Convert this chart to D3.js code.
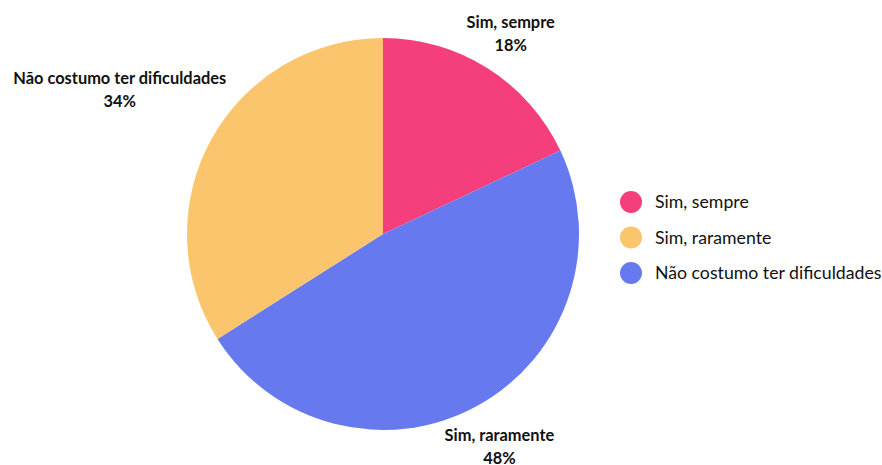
<!DOCTYPE html>
<html lang="pt">
<head>
    <meta charset="utf-8">
    <title>Pie chart</title>
    <script src="https://cdn.jsdelivr.net/npm/d3@7"></script>
    <style>
        body { margin: 0; background: #fff; }
        svg text { font-family: Lato, "Open Sans", sans-serif; fill: #111; }
    </style>
</head>
<body>
<div id="chart"></div>

<script>
    // slice data, clockwise from 12 o'clock
    const sliceLabels = ['Sim, sempre', 'Sim, raramente', 'Não costumo ter dificuldades'];
    const sliceValues = [18, 48, 34];
    const sliceColors = ['#f53e7c', '#6679ef', '#fbc56d'];

    // legend entries
    const legendLabels = ['Sim, sempre', 'Sim, raramente', 'Não costumo ter dificuldades'];
    const legendColors = ['#f53e7c', '#fbc56d', '#6679ef'];

    const width = 882, height = 465;
    const cx = 383, cy = 234, radius = 196;

    const svg = d3.select('#chart')
        .append('svg')
            .attr('width', width)
            .attr('height', height);

    const data = sliceLabels.map((d, i) => ({label: d, value: sliceValues[i], color: sliceColors[i]}));

    const pie = d3.pie().sort(null).value(d => d.value);
    const arc = d3.arc().innerRadius(0).outerRadius(radius);
    const arcs = pie(data);

    const g = svg.append('g').attr('transform', `translate(${cx},${cy})`);

    g.selectAll('path')
        .data(arcs)
        .enter()
        .append('path')
            .attr('d', arc)
            .attr('fill', d => d.data.color);

    // outside labels: box centre on the mid-angle ray, just clear of the rim
    const pad = 1;
    const total = d3.sum(sliceValues);
    arcs.forEach(d => {
        const a = (d.startAngle + d.endAngle) / 2;
        const lbl = g.append('g');
        lbl.append('text')
            .attr('text-anchor', 'middle')
            .attr('y', 0)
            .style('font-weight', 700)
            .style('font-size', '16.4px')
            .text(d.data.label);
        lbl.append('text')
            .attr('text-anchor', 'middle')
            .attr('y', 23)
            .style('font-weight', 700)
            .style('font-size', '16.4px')
            .text(Math.round(d.data.value / total * 100) + '%');
        const bb = lbl.node().getBBox();
        const ext = Math.abs(Math.sin(a)) * bb.width / 2 + Math.abs(Math.cos(a)) * bb.height / 2;
        const dist = radius + pad + ext;
        const tx = Math.sin(a) * dist - (bb.x + bb.width / 2);
        const ty = -Math.cos(a) * dist - (bb.y + bb.height / 2);
        lbl.attr('transform', `translate(${tx},${ty})`);
    });

    // legend
    const legend = svg.append('g').attr('transform', 'translate(631, 202)');
    const items = legend.selectAll('.legend-item')
        .data(legendLabels)
        .enter()
        .append('g')
            .attr('class', 'legend-item')
            .attr('transform', (d, i) => `translate(0, ${i * 35.5})`);

    items.append('circle')
        .attr('r', 11)
        .attr('fill', (d, i) => legendColors[i]);

    items.append('text')
        .attr('x', 24)
        .attr('dy', '0.36em')
        .style('font-size', '17.7px')
        .text(d => d);
</script>
</body>
</html>
